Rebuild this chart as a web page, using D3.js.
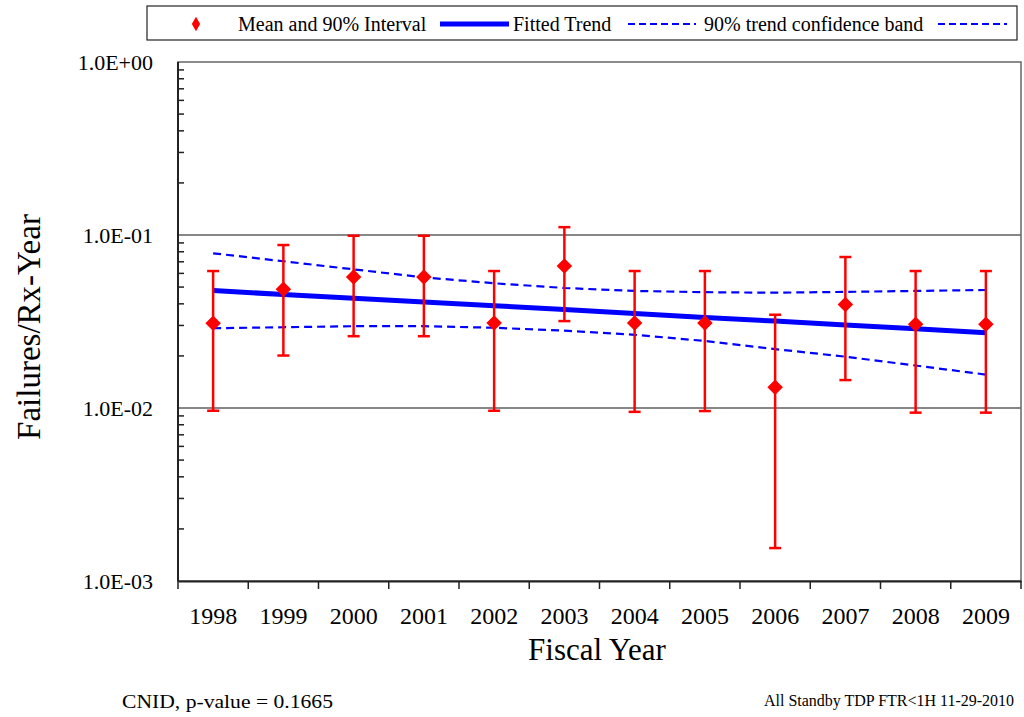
<!DOCTYPE html>
<html>
<head>
<meta charset="utf-8">
<script src="https://cdn.jsdelivr.net/npm/d3@7"></script>
<style>
  body { margin: 0; background: #fff; }
  svg { display: block; font-family: "Liberation Serif", "DejaVu Serif", serif; }
</style>
</head>
<body>
<svg id="chart" width="1024" height="717"></svg>
<script>
// fiscal years on the x axis
var years = ["1998", "1999", "2000", "2001", "2002", "2003", "2004", "2005", "2006", "2007", "2008", "2009"];

// mean and 90% interval per year
var means = [0.0309, 0.0486, 0.0572, 0.0572, 0.0310, 0.0662, 0.0310, 0.0310, 0.0132, 0.0396, 0.0305, 0.0305];
var upper = [0.0619, 0.0875, 0.0990, 0.0990, 0.0619, 0.1110, 0.0619, 0.0619, 0.0346, 0.0746, 0.0619, 0.0619];
var lower = [0.00964, 0.0201, 0.0260, 0.0260, 0.00964, 0.0318, 0.0095, 0.0096, 0.00155, 0.0145, 0.0094, 0.0094];

// fitted trend and its 90% confidence band
var trend = [0.0477, 0.0453, 0.0431, 0.0410, 0.0390, 0.0371, 0.0352, 0.0334, 0.0318, 0.0302, 0.0287, 0.0272];
var bandHi = [0.0784, 0.0705, 0.0633, 0.0569, 0.0526, 0.0494, 0.0475, 0.0467, 0.0464, 0.0469, 0.0475, 0.0481];
var bandLo = [0.0289, 0.0293, 0.0297, 0.0297, 0.0291, 0.0280, 0.0265, 0.0244, 0.0219, 0.0198, 0.0176, 0.0156];

var decades = [1, 0.1, 0.01, 0.001];
var decadeLabels = ["1.0E+00", "1.0E-01", "1.0E-02", "1.0E-03"];

(function() {

    var svg = d3.select("#chart");
    var pLeft = 178, pRight = 1021, pTop = 62, pBottom = 581;

    var x = d3.scaleBand().domain(years).range([pLeft, pRight]);
    var y = d3.scaleLog().domain([0.001, 1]).range([pBottom, pTop]);

    // gridlines at the inner decades
    svg.append("g").selectAll("line")
        .data(decades.slice(1, 3))
        .enter().append("line")
        .attr("x1", pLeft).attr("x2", pRight)
        .attr("y1", function(d) { return y(d); })
        .attr("y2", function(d) { return y(d); })
        .attr("stroke", "#111").attr("stroke-width", 1.2);

    // plot frame
    svg.append("rect")
        .attr("x", pLeft).attr("y", pTop)
        .attr("width", pRight - pLeft).attr("height", pBottom - pTop)
        .attr("fill", "none").attr("stroke", "#666").attr("stroke-width", 1.5);

    // left axis, minor ticks pointing inward
    var minor = [];
    decades.slice(1).forEach(function(d) {
        for (var k = 2; k <= 9; k++) minor.push(d * k);
    });
    svg.append("g").selectAll("line")
        .data(minor)
        .enter().append("line")
        .attr("x1", pLeft).attr("x2", pLeft + 6)
        .attr("y1", function(d) { return y(d); })
        .attr("y2", function(d) { return y(d); })
        .attr("stroke", "#222").attr("stroke-width", 1.5);

    svg.append("line")
        .attr("x1", pLeft).attr("x2", pLeft)
        .attr("y1", pTop).attr("y2", pBottom)
        .attr("stroke", "#222").attr("stroke-width", 2);

    svg.append("g").selectAll("text")
        .data(decades)
        .enter().append("text")
        .attr("x", 153)
        .attr("y", function(d) { return y(d) + 8; })
        .attr("text-anchor", "end")
        .attr("font-size", "22px")
        .text(function(d, i) { return decadeLabels[i]; });

    // bottom axis
    var xAxis = d3.axisBottom(x).tickSize(0).tickPadding(26);
    var gx = svg.append("g")
        .attr("transform", "translate(0," + pBottom + ")")
        .call(xAxis);
    gx.select(".domain").attr("stroke", "#222").attr("stroke-width", 2);
    gx.selectAll("text")
        .attr("font-family", "Liberation Serif, serif")
        .attr("font-size", "24px")
        .attr("fill", "#000");

    var edges = years.map(function(d) { return x(d); }).concat([pRight]);
    svg.append("g").selectAll("line")
        .data(edges)
        .enter().append("line")
        .attr("x1", function(d) { return d; }).attr("x2", function(d) { return d; })
        .attr("y1", pBottom).attr("y2", pBottom + 8)
        .attr("stroke", "#222").attr("stroke-width", 1.5);

    // axis titles
    svg.append("text")
        .attr("x", 597).attr("y", 660)
        .attr("text-anchor", "middle")
        .attr("font-size", "31px")
        .text("Fiscal Year");

    svg.append("text")
        .attr("transform", "translate(40,327) rotate(-90)")
        .attr("text-anchor", "middle")
        .attr("font-size", "33px")
        .text("Failures/Rx-Year");

    var cx = function(i) { return x(years[i]) + x.bandwidth() / 2; };

    // confidence band
    var line = d3.line()
        .x(function(d, i) { return cx(i); })
        .y(function(d) { return y(d); });

    [bandHi, bandLo].forEach(function(s) {
        svg.append("path")
            .attr("d", line(s))
            .attr("fill", "none")
            .attr("stroke", "#0000ff")
            .attr("stroke-width", 2.2)
            .attr("stroke-dasharray", "8,5");
    });

    // fitted trend
    svg.append("path")
        .attr("d", line(trend))
        .attr("fill", "none")
        .attr("stroke", "#0000ff")
        .attr("stroke-width", 5);

    // interval bars
    var bars = svg.append("g").attr("stroke", "#ff0000").attr("stroke-width", 2.5);
    years.forEach(function(yr, i) {
        bars.append("line")
            .attr("x1", cx(i)).attr("x2", cx(i))
            .attr("y1", y(upper[i])).attr("y2", y(lower[i]));
        [upper[i], lower[i]].forEach(function(v) {
            bars.append("line")
                .attr("x1", cx(i) - 6).attr("x2", cx(i) + 6)
                .attr("y1", y(v)).attr("y2", y(v));
        });
    });

    // mean markers: square turned 45deg
    var marker = d3.symbol().type(d3.symbolSquare).size(120);
    svg.append("g").selectAll("path")
        .data(means)
        .enter().append("path")
        .attr("d", marker)
        .attr("transform", function(d, i) { return "translate(" + cx(i) + "," + y(d) + ") rotate(45)"; })
        .attr("fill", "#ff0000");

    // legend
    var lg = svg.append("g").attr("font-size", "20px");
    lg.append("rect")
        .attr("x", 147).attr("y", 6).attr("width", 870).attr("height", 34)
        .attr("fill", "#fff").attr("stroke", "#222").attr("stroke-width", 1.2);
    lg.append("path")
        .attr("d", d3.symbol().type(d3.symbolDiamond).size(60))
        .attr("transform", "translate(196,24)")
        .attr("fill", "#ff0000");
    lg.append("text").attr("x", 238).attr("y", 31).text("Mean and 90% Interval");
    lg.append("line")
        .attr("x1", 440).attr("x2", 509).attr("y1", 24).attr("y2", 24)
        .attr("stroke", "#0000ff").attr("stroke-width", 5);
    lg.append("text").attr("x", 513).attr("y", 31).text("Fitted Trend");
    [[628, 696], [938, 1007]].forEach(function(p) {
        lg.append("line")
            .attr("x1", p[0]).attr("x2", p[1]).attr("y1", 24).attr("y2", 24)
            .attr("stroke", "#0000ff").attr("stroke-width", 2)
            .attr("stroke-dasharray", "7,4");
    });
    lg.append("text").attr("x", 704).attr("y", 31).text("90% trend confidence band");

    // footer notes
    svg.append("text")
        .attr("x", 122).attr("y", 708)
        .attr("font-size", "18px")
        .attr("textLength", 211)
        .attr("lengthAdjust", "spacingAndGlyphs")
        .text("CNID, p-value = 0.1665");

    svg.append("text")
        .attr("x", 764).attr("y", 706)
        .attr("font-size", "16px")
        .attr("textLength", 250)
        .attr("lengthAdjust", "spacingAndGlyphs")
        .text("All Standby TDP FTR<1H 11-29-2010");

})();
</script>
</body>
</html>
